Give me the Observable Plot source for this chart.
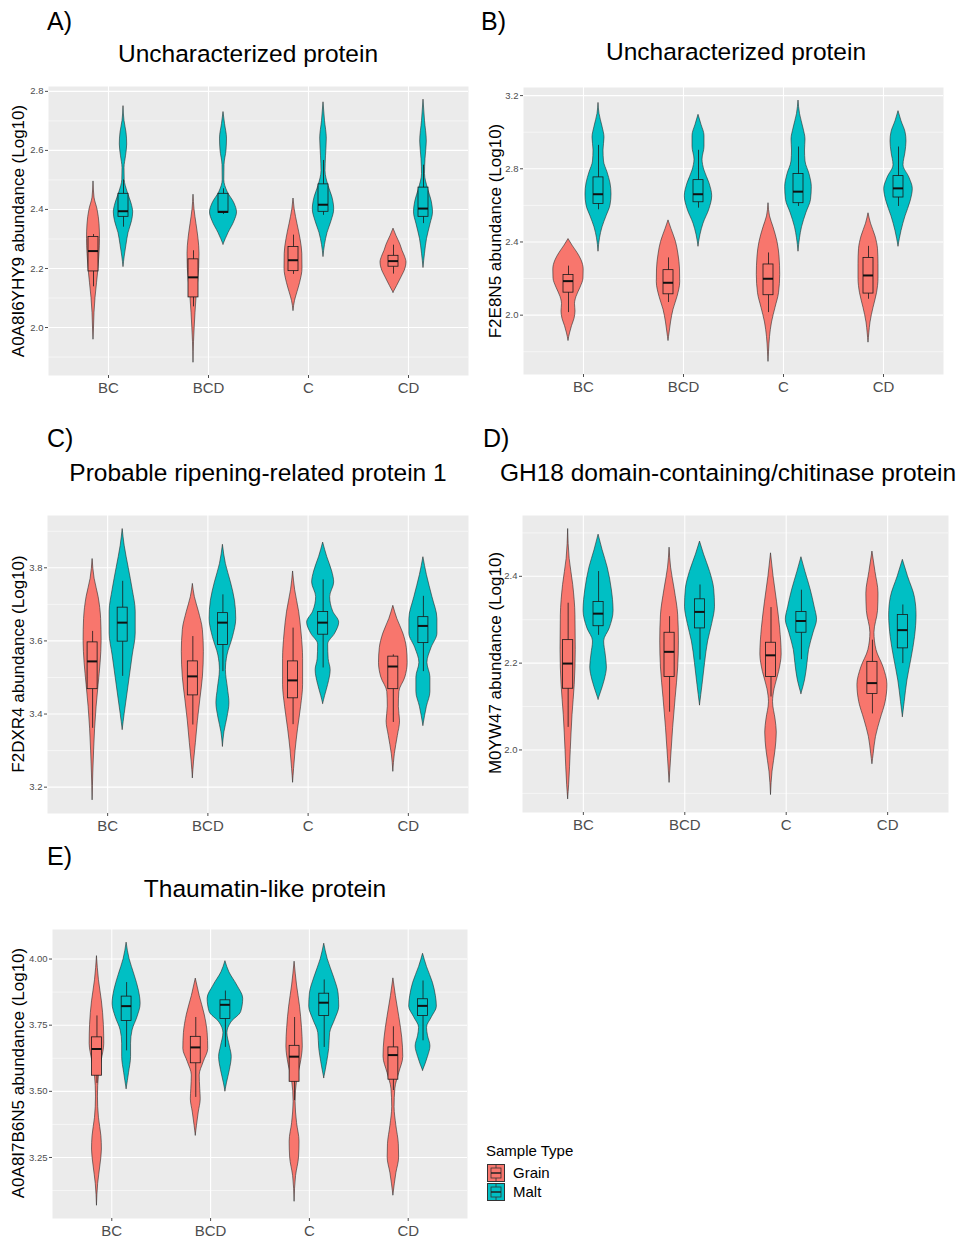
<!DOCTYPE html>
<html><head><meta charset="utf-8">
<script src="https://cdn.jsdelivr.net/npm/d3@7"></script>
<script src="https://cdn.jsdelivr.net/npm/@observablehq/plot@0.6"></script>
<style>
body{margin:0;background:#fff;font-family:"Liberation Sans",Arial,Helvetica,sans-serif;}
#root{position:relative;width:962px;height:1239px;overflow:hidden;background:#fff;}
.abs{position:absolute;white-space:nowrap;line-height:1;}
.letter{font-size:25px;color:#000;}
.title{font-size:24.5px;color:#000;transform:translate(-50%,-50%);}
.ylab{font-size:17px;color:#000;transform:translate(-50%,-50%) rotate(-90deg);}
.leg{font-size:15px;color:#000;}
</style></head><body><div id="root"></div>
<script>
const categories = ["BC", "BCD", "C", "CD"];
const sampleTypes = ["Grain", "Malt"];
const fillColors = ["#F8766D", "#00BFC4"];
const panelLetters = ["A)", "B)", "C)", "D)", "E)"];
const panelTitles = ["Uncharacterized protein", "Uncharacterized protein", "Probable ripening-related protein 1", "GH18 domain-containing/chitinase protein", "Thaumatin-like protein"];
const yLabels = ["A0A8I6YHY9 abundance (Log10)", "F2E8N5 abundance (Log10)", "F2DXR4 abundance (Log10)", "M0YW47 abundance (Log10)", "A0A8I7B6N5 abundance (Log10)"];
const yTicksA = [2.0, 2.2, 2.4, 2.6, 2.8];
const yTicksB = [2.0, 2.4, 2.8, 3.2];
const yTicksC = [3.2, 3.4, 3.6, 3.8];
const yTicksD = [2.0, 2.2, 2.4];
const yTicksE = [3.25, 3.50, 3.75, 4.00];

// violin density profiles: [category, sample type, [[value, half-width], ...]]
const violinA = [
 ["BC","Grain",[[2.495,0],[2.44,0.01],[2.40,0.04],[2.35,0.06],[2.30,0.065],[2.25,0.06],[2.20,0.05],[2.15,0.035],[2.10,0.02],[2.05,0.01],[2.00,0.005],[1.96,0]]],
 ["BC","Malt",[[2.75,0],[2.70,0.01],[2.66,0.03],[2.62,0.037],[2.58,0.025],[2.54,0.01],[2.50,0.012],[2.46,0.04],[2.42,0.08],[2.39,0.097],[2.36,0.085],[2.32,0.05],[2.28,0.03],[2.24,0.012],[2.206,0]]],
 ["BCD","Grain",[[2.45,0],[2.40,0.01],[2.35,0.03],[2.30,0.05],[2.25,0.06],[2.20,0.057],[2.15,0.045],[2.10,0.03],[2.05,0.02],[2.00,0.012],[1.95,0.005],[1.882,0]]],
 ["BCD","Malt",[[2.73,0],[2.69,0.015],[2.64,0.035],[2.60,0.03],[2.55,0.01],[2.50,0.008],[2.46,0.04],[2.42,0.11],[2.39,0.135],[2.36,0.11],[2.32,0.05],[2.281,0]]],
 ["C","Grain",[[2.437,0],[2.40,0.012],[2.35,0.04],[2.30,0.07],[2.25,0.088],[2.20,0.09],[2.15,0.065],[2.12,0.04],[2.09,0.015],[2.057,0]]],
 ["C","Malt",[[2.763,0],[2.70,0.015],[2.64,0.033],[2.58,0.025],[2.53,0.02],[2.48,0.05],[2.44,0.09],[2.40,0.107],[2.36,0.08],[2.32,0.04],[2.28,0.015],[2.24,0]]],
 ["CD","Grain",[[2.335,0],[2.31,0.03],[2.28,0.07],[2.26,0.09],[2.24,0.115],[2.22,0.13],[2.20,0.12],[2.17,0.08],[2.14,0.035],[2.118,0]]],
 ["CD","Malt",[[2.772,0],[2.70,0.015],[2.63,0.033],[2.57,0.02],[2.52,0.015],[2.47,0.045],[2.43,0.08],[2.39,0.095],[2.35,0.07],[2.30,0.035],[2.25,0.015],[2.203,0]]]
];
const violinB = [
 ["BC","Grain",[[2.416,0],[2.38,0.04],[2.34,0.09],[2.30,0.13],[2.25,0.152],[2.20,0.15],[2.15,0.12],[2.10,0.08],[2.06,0.065],[2.02,0.07],[1.98,0.06],[1.94,0.035],[1.90,0.015],[1.861,0]]],
 ["BC","Malt",[[3.16,0],[3.10,0.01],[3.03,0.04],[2.97,0.06],[2.90,0.05],[2.84,0.055],[2.78,0.09],[2.72,0.12],[2.66,0.13],[2.60,0.12],[2.54,0.08],[2.48,0.04],[2.42,0.015],[2.349,0]]],
 ["BCD","Grain",[[2.518,0],[2.47,0.03],[2.40,0.075],[2.33,0.1],[2.25,0.115],[2.18,0.117],[2.10,0.09],[2.03,0.05],[1.96,0.025],[1.90,0.01],[1.861,0]]],
 ["BCD","Malt",[[3.095,0],[3.04,0.03],[2.98,0.06],[2.92,0.06],[2.85,0.04],[2.79,0.06],[2.72,0.11],[2.65,0.137],[2.58,0.11],[2.50,0.05],[2.44,0.02],[2.376,0]]],
 ["C","Grain",[[2.612,0],[2.54,0.015],[2.48,0.05],[2.40,0.09],[2.32,0.11],[2.22,0.117],[2.12,0.105],[2.04,0.07],[1.96,0.035],[1.88,0.015],[1.80,0.005],[1.747,0]]],
 ["C","Malt",[[3.173,0],[3.10,0.015],[3.02,0.05],[2.96,0.07],[2.90,0.065],[2.84,0.07],[2.77,0.11],[2.70,0.133],[2.63,0.125],[2.56,0.08],[2.48,0.035],[2.42,0.015],[2.349,0]]],
 ["CD","Grain",[[2.557,0],[2.50,0.025],[2.43,0.07],[2.36,0.095],[2.28,0.1],[2.20,0.1],[2.12,0.085],[2.04,0.05],[1.96,0.02],[1.90,0.008],[1.852,0]]],
 ["CD","Malt",[[3.115,0],[3.06,0.03],[3.00,0.07],[2.95,0.08],[2.89,0.07],[2.82,0.05],[2.75,0.11],[2.69,0.143],[2.62,0.12],[2.54,0.07],[2.46,0.03],[2.376,0]]]
];
const violinC = [
 ["BC","Grain",[[3.824,0],[3.77,0.02],[3.72,0.06],[3.66,0.085],[3.60,0.09],[3.54,0.08],[3.48,0.06],[3.42,0.04],[3.36,0.025],[3.30,0.015],[3.24,0.007],[3.165,0]]],
 ["BC","Malt",[[3.906,0],[3.86,0.02],[3.80,0.06],[3.74,0.1],[3.68,0.13],[3.62,0.13],[3.56,0.1],[3.50,0.07],[3.44,0.04],[3.40,0.02],[3.357,0]]],
 ["BCD","Grain",[[3.756,0],[3.72,0.02],[3.68,0.06],[3.63,0.1],[3.57,0.11],[3.50,0.1],[3.44,0.075],[3.38,0.05],[3.32,0.03],[3.27,0.012],[3.225,0]]],
 ["BCD","Malt",[[3.863,0],[3.81,0.03],[3.76,0.08],[3.71,0.12],[3.66,0.133],[3.61,0.1],[3.56,0.045],[3.52,0.03],[3.47,0.05],[3.43,0.065],[3.39,0.045],[3.35,0.015],[3.311,0]]],
 ["C","Grain",[[3.79,0],[3.74,0.02],[3.68,0.06],[3.62,0.085],[3.55,0.1],[3.48,0.1],[3.42,0.08],[3.36,0.05],[3.30,0.025],[3.25,0.01],[3.213,0]]],
 ["C","Malt",[[3.869,0],[3.83,0.04],[3.79,0.09],[3.76,0.11],[3.72,0.07],[3.68,0.1],[3.65,0.16],[3.62,0.12],[3.59,0.05],[3.55,0.055],[3.52,0.075],[3.48,0.05],[3.45,0.02],[3.428,0]]],
 ["CD","Grain",[[3.696,0],[3.66,0.04],[3.62,0.1],[3.58,0.135],[3.54,0.143],[3.50,0.12],[3.46,0.06],[3.42,0.055],[3.38,0.067],[3.34,0.045],[3.29,0.015],[3.243,0]]],
 ["CD","Malt",[[3.829,0],[3.78,0.035],[3.72,0.09],[3.66,0.14],[3.62,0.14],[3.58,0.08],[3.54,0.04],[3.50,0.07],[3.46,0.07],[3.42,0.035],[3.368,0]]]
];
const violinD = [
 ["BC","Grain",[[2.509,0],[2.44,0.015],[2.38,0.05],[2.31,0.072],[2.23,0.075],[2.15,0.065],[2.08,0.043],[2.00,0.026],[1.92,0.01],[1.887,0]]],
 ["BC","Malt",[[2.496,0],[2.46,0.04],[2.42,0.09],[2.37,0.13],[2.32,0.148],[2.28,0.11],[2.25,0.055],[2.22,0.07],[2.19,0.082],[2.16,0.06],[2.13,0.02],[2.116,0]]],
 ["BCD","Grain",[[2.466,0],[2.42,0.015],[2.37,0.05],[2.31,0.085],[2.25,0.092],[2.19,0.085],[2.12,0.06],[2.05,0.035],[1.98,0.015],[1.925,0]]],
 ["BCD","Malt",[[2.48,0],[2.45,0.04],[2.41,0.1],[2.37,0.14],[2.33,0.148],[2.29,0.12],[2.25,0.08],[2.20,0.05],[2.15,0.025],[2.103,0]]],
 ["C","Grain",[[2.453,0],[2.40,0.025],[2.34,0.06],[2.28,0.09],[2.22,0.105],[2.18,0.08],[2.14,0.035],[2.11,0.02],[2.07,0.045],[2.04,0.057],[2.00,0.045],[1.95,0.015],[1.897,0]]],
 ["C","Malt",[[2.444,0],[2.41,0.04],[2.37,0.09],[2.33,0.13],[2.30,0.154],[2.27,0.12],[2.23,0.075],[2.20,0.06],[2.16,0.035],[2.129,0]]],
 ["CD","Grain",[[2.457,0],[2.41,0.03],[2.36,0.06],[2.32,0.055],[2.27,0.02],[2.23,0.04],[2.19,0.11],[2.15,0.148],[2.11,0.13],[2.07,0.08],[2.03,0.035],[1.99,0.012],[1.968,0]]],
 ["CD","Malt",[[2.438,0],[2.40,0.05],[2.35,0.12],[2.31,0.135],[2.26,0.12],[2.21,0.085],[2.16,0.045],[2.11,0.018],[2.076,0]]]
];
const violinE = [
 ["BC","Grain",[[4.011,0],[3.92,0.02],[3.84,0.05],[3.75,0.07],[3.68,0.074],[3.62,0.05],[3.56,0.02],[3.48,0.01],[3.40,0.02],[3.33,0.045],[3.28,0.05],[3.22,0.035],[3.15,0.012],[3.069,0]]],
 ["BC","Malt",[[4.062,0],[4.00,0.03],[3.94,0.08],[3.88,0.125],[3.83,0.142],[3.78,0.11],[3.73,0.06],[3.68,0.045],[3.63,0.045],[3.57,0.025],[3.509,0]]],
 ["BCD","Grain",[[3.926,0],[3.86,0.04],[3.79,0.09],[3.72,0.12],[3.66,0.126],[3.61,0.08],[3.56,0.04],[3.51,0.045],[3.47,0.05],[3.42,0.03],[3.37,0.012],[3.333,0]]],
 ["BCD","Malt",[[3.992,0],[3.95,0.04],[3.90,0.12],[3.85,0.18],[3.80,0.16],[3.76,0.06],[3.72,0.02],[3.67,0.045],[3.63,0.064],[3.58,0.045],[3.53,0.015],[3.50,0]]],
 ["C","Grain",[[3.99,0],[3.90,0.025],[3.82,0.055],[3.74,0.075],[3.67,0.083],[3.60,0.06],[3.54,0.025],[3.46,0.01],[3.38,0.025],[3.31,0.05],[3.25,0.045],[3.18,0.015],[3.084,0]]],
 ["C","Malt",[[4.058,0],[4.00,0.035],[3.93,0.1],[3.87,0.145],[3.82,0.152],[3.77,0.11],[3.72,0.06],[3.66,0.05],[3.61,0.03],[3.55,0]]],
 ["CD","Grain",[[3.927,0],[3.86,0.025],[3.78,0.06],[3.70,0.09],[3.63,0.1],[3.57,0.06],[3.51,0.02],[3.44,0.012],[3.37,0.03],[3.30,0.055],[3.25,0.058],[3.19,0.03],[3.107,0]]],
 ["CD","Malt",[[4.02,0],[3.97,0.04],[3.91,0.1],[3.86,0.13],[3.82,0.14],[3.78,0.09],[3.74,0.04],[3.71,0.05],[3.67,0.075],[3.63,0.05],[3.578,0]]]
];

// box statistics: [category, sample type, lower whisker, Q1, median, Q3, upper whisker]
const boxA = [
 ["BC","Grain",2.138,2.19,2.259,2.307,2.315],["BC","Malt",2.34,2.375,2.394,2.453,2.50],
 ["BCD","Grain",2.07,2.102,2.17,2.231,2.26],["BCD","Malt",2.383,2.388,2.392,2.453,2.47],
 ["C","Grain",2.18,2.191,2.228,2.273,2.313],["C","Malt",2.38,2.392,2.416,2.485,2.566],
 ["CD","Grain",2.181,2.206,2.225,2.243,2.279],["CD","Malt",2.352,2.375,2.403,2.474,2.55]
];
const boxB = [
 ["BC","Grain",2.014,2.123,2.186,2.219,2.268],["BC","Malt",2.576,2.608,2.661,2.753,2.928],
 ["BCD","Grain",2.069,2.114,2.177,2.246,2.313],["BCD","Malt",2.585,2.617,2.661,2.738,2.901],
 ["C","Grain",2.014,2.109,2.199,2.277,2.34],["C","Malt",2.594,2.612,2.675,2.771,2.919],
 ["CD","Grain",2.087,2.118,2.217,2.313,2.376],["CD","Malt",2.594,2.643,2.693,2.76,2.919]
];
const boxC = [
 ["BC","Grain",3.361,3.468,3.544,3.596,3.626],["BC","Malt",3.503,3.598,3.65,3.691,3.763],
 ["BCD","Grain",3.37,3.451,3.503,3.544,3.612],["BCD","Malt",3.516,3.589,3.65,3.676,3.726],
 ["C","Grain",3.371,3.443,3.492,3.544,3.635],["C","Malt",3.526,3.617,3.65,3.679,3.767],
 ["CD","Grain",3.377,3.468,3.53,3.557,3.562],["CD","Malt",3.516,3.594,3.641,3.665,3.722]
];
const boxD = [
 ["BC","Grain",2.052,2.141,2.199,2.253,2.338],["BC","Malt",2.264,2.285,2.314,2.341,2.411],
 ["BCD","Grain",2.087,2.168,2.226,2.27,2.307],["BCD","Malt",2.207,2.28,2.318,2.347,2.38],
 ["C","Grain",2.122,2.168,2.218,2.247,2.328],["C","Malt",2.208,2.27,2.297,2.318,2.368],
 ["CD","Grain",2.083,2.129,2.154,2.203,2.253],["CD","Malt",2.199,2.234,2.276,2.311,2.334]
];
const boxE = [
 ["BC","Grain",3.53,3.559,3.66,3.704,3.785],["BC","Malt",3.653,3.766,3.822,3.858,3.911],
 ["BCD","Grain",3.477,3.606,3.666,3.706,3.779],["BCD","Malt",3.666,3.773,3.827,3.844,3.879],
 ["C","Grain",3.465,3.536,3.631,3.672,3.779],["C","Malt",3.666,3.785,3.835,3.869,3.921],
 ["CD","Grain",3.503,3.544,3.637,3.666,3.744],["CD","Malt",3.691,3.785,3.823,3.848,3.917]
];

const root = document.getElementById("root");
const FONT = "'Liberation Sans', Arial, Helvetica, sans-serif";
const dodge = 0.15, boxW = 0.1;

function addText(cls, txt, left, top) {
  const d = document.createElement("div");
  d.className = "abs " + cls;
  d.textContent = txt;
  d.style.left = left + "px";
  d.style.top = top + "px";
  root.appendChild(d);
  return d;
}

// layout: frame = [x0, x1, y0, y1] of grey panel in page pixels
const layout = [
  {frame: [48, 468, 86, 375], letter: [47, 9], title: [248, 54], ylab: [18, 231]},
  {frame: [523, 943, 87, 374], letter: [481, 9], title: [736, 52], ylab: [495, 231]},
  {frame: [47, 468, 515, 813], letter: [47, 426], title: [258, 473], ylab: [18, 664]},
  {frame: [522, 948, 515, 812], letter: [483, 426], title: [728, 473], ylab: [495, 663]},
  {frame: [52, 467, 929, 1218], letter: [47, 844], title: [265, 889], ylab: [18, 1073]}
];
const violins = [violinA, violinB, violinC, violinD, violinE];
const boxes = [boxA, boxB, boxC, boxD, boxE];
const ticks = [yTicksA, yTicksB, yTicksC, yTicksD, yTicksE];
const formats = [".1f", ".1f", ".1f", ".1f", ".2f"];

layout.forEach((L, i) => {
  const pos = (cat, type) => categories.indexOf(cat) + 1 + (type === "Grain" ? -dodge : dodge);
  const rows = [];
  for (const [cat, type, prof] of violins[i]) {
    const sorted = prof.slice().sort((a, b) => a[0] - b[0]);
    const c = pos(cat, type);
    for (const [y, hw] of sorted) rows.push({key: cat + "-" + type, type, y, x1: c - hw, x2: c + hw});
  }
  const lo = d3.min(rows, d => d.y), hi = d3.max(rows, d => d.y), pad = (hi - lo) * 0.05;
  const bx = boxes[i].map(([cat, type, wlo, q1, med, q3, whi]) => ({type, x: pos(cat, type), wlo, q1, med, q3, whi}));
  const tk = ticks[i];
  const step = tk[1] - tk[0];
  const minors = [tk[0] - step / 2, ...tk.map(t => t + step / 2)].filter(v => v > lo - pad && v < hi + pad);
  const [fx0, fx1, fy0, fy1] = L.frame;
  const mL = 45, mR = 6, mT = 6, mB = 30;
  const chart = Plot.plot({
    width: fx1 - fx0 + mL + mR, height: fy1 - fy0 + mT + mB,
    marginLeft: mL, marginRight: mR, marginTop: mT, marginBottom: mB,
    x: {domain: [0.4, 4.6]},
    y: {domain: [lo - pad, hi + pad]},
    color: {domain: sampleTypes, range: fillColors},
    style: {background: "transparent", fontFamily: FONT, overflow: "visible"},
    marks: [
      Plot.frame({fill: "#EBEBEB", stroke: "none"}),
      Plot.ruleY(minors, {stroke: "#ffffff", strokeWidth: 0.55}),
      Plot.ruleY(tk, {stroke: "#ffffff", strokeWidth: 1.1}),
      Plot.ruleX([1, 2, 3, 4], {stroke: "#ffffff", strokeWidth: 1.1}),
      Plot.areaX(rows, {y: "y", x1: "x1", x2: "x2", z: "key", fill: "type", stroke: "#2a2a2a", strokeWidth: 0.6, curve: "monotone-y"}),
      Plot.ruleX(bx, {x: "x", y1: "wlo", y2: "whi", stroke: "#1a1a1a", strokeWidth: 0.8}),
      Plot.rect(bx, {x1: d => d.x - boxW / 2, x2: d => d.x + boxW / 2, y1: "q1", y2: "q3", fill: "type", stroke: "#1a1a1a", strokeWidth: 0.8}),
      Plot.ruleY(bx, {y: "med", x1: d => d.x - boxW / 2, x2: d => d.x + boxW / 2, stroke: "#111", strokeWidth: 2}),
      Plot.axisY({ticks: tk, tickFormat: d3.format(formats[i]), tickSize: 3, tickPadding: 2, fontSize: 9.5, color: "#4D4D4D", label: null}),
      Plot.axisX({ticks: [1, 2, 3, 4], tickFormat: d => categories[d - 1], tickSize: 3, tickPadding: 4, fontSize: 15, color: "#4D4D4D", label: null})
    ]
  });
  chart.style.position = "absolute";
  chart.style.left = (fx0 - mL) + "px";
  chart.style.top = (fy0 - mT) + "px";
  root.appendChild(chart);
  addText("letter", panelLetters[i], L.letter[0], L.letter[1]);
  addText("title", panelTitles[i], L.title[0], L.title[1]);
  addText("ylab", yLabels[i], L.ylab[0], L.ylab[1]);
});

// legend
addText("leg", "Sample Type", 486, 1143);
sampleTypes.forEach((t, j) => {
  const top = 1164 + j * 19;
  const ns = "http://www.w3.org/2000/svg";
  const svg = document.createElementNS(ns, "svg");
  svg.setAttribute("width", 18); svg.setAttribute("height", 18);
  svg.style.position = "absolute"; svg.style.left = "487px"; svg.style.top = top + "px";
  svg.innerHTML = `<rect x="0.5" y="0.5" width="17" height="17" fill="${fillColors[j]}" stroke="#333" stroke-width="1"/>
    <rect x="4" y="4" width="10" height="10" fill="none" stroke="#333" stroke-width="0.8"/>
    <line x1="4" y1="9" x2="14" y2="9" stroke="#222" stroke-width="1.5"/>
    <line x1="9" y1="0.5" x2="9" y2="4" stroke="#333" stroke-width="0.8"/>
    <line x1="9" y1="14" x2="9" y2="17.5" stroke="#333" stroke-width="0.8"/>`;
  root.appendChild(svg);
  addText("leg", t, 513, top + 1);
});
</script></body></html>
